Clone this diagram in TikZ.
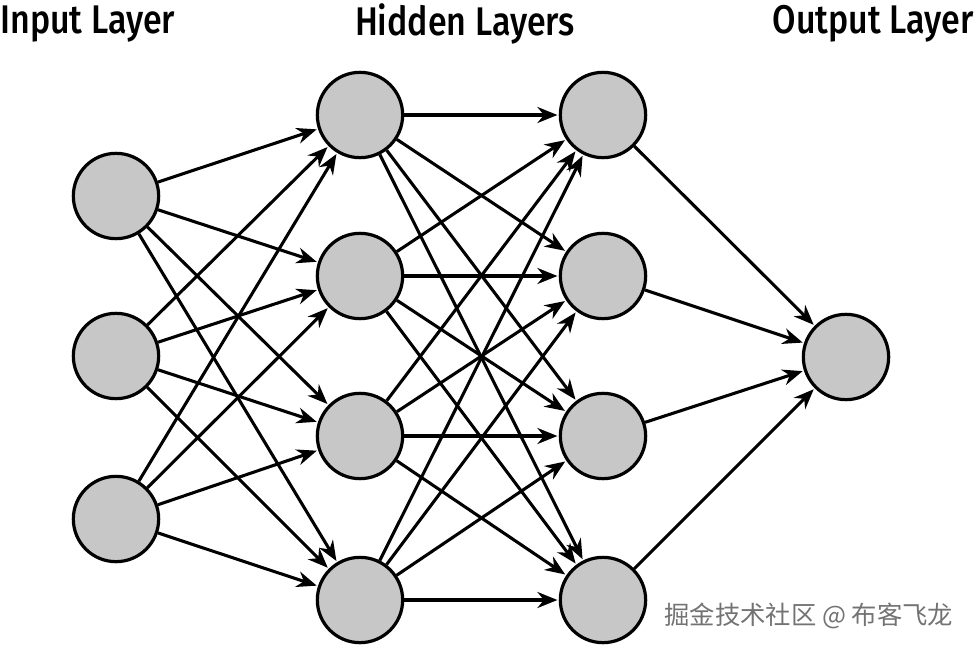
\documentclass[tikz,border=0pt]{standalone}
\usepackage{fontspec}
\setmainfont{Fira Sans}
\newfontfamily\titlefont[FakeStretch=0.85]{Fira Sans Medium}
\newfontfamily\cjk{Noto Sans CJK SC}
\usetikzlibrary{arrows.meta}
\begin{document}
\begin{tikzpicture}[x=0.75pt,y=-0.75pt,
  neuron/.style={circle,draw=black,line width=2.4pt,fill=black!22,minimum size=64pt,inner sep=0pt},
  conn/.style={line width=2.3pt,-{Stealth[length=15pt,width=12pt]},shorten >=1pt},
  title/.style={font=\titlefont\fontsize{30}{33}\selectfont, inner sep=0pt}]
\useasboundingbox (0,0) rectangle (975,650);
\foreach \i/\y in {1/196,2/356,3/519} \node[neuron] (i\i) at (116,\y) {};
\foreach \i/\y in {1/115,2/276,3/436,4/600} {
  \node[neuron] (a\i) at (360,\y) {};
  \node[neuron] (b\i) at (603,\y) {};
}
\node[neuron] (o) at (846,357) {};
\foreach \s in {1,2,3} \foreach \t in {1,2,3,4} \draw[conn] (i\s) -- (a\t);
\foreach \s in {1,2,3,4} \foreach \t in {1,2,3,4} \draw[conn] (a\s) -- (b\t);
\foreach \s in {1,2,3,4} \draw[conn] (b\s) -- (o);
\node[title,anchor=west] (t1) at (0,24) {Input Layer};
\node[title] (t2) at (465,24) {Hidden Layers};
\node[title,anchor=east] (t3) at (974,24) {Output Layer};
\node[anchor=east,text=black!55,font=\cjk\fontsize{19}{22}\selectfont] (wm) at (958,616) {掘金技术社区 @ 布客飞龙};
\end{tikzpicture}
\end{document}
